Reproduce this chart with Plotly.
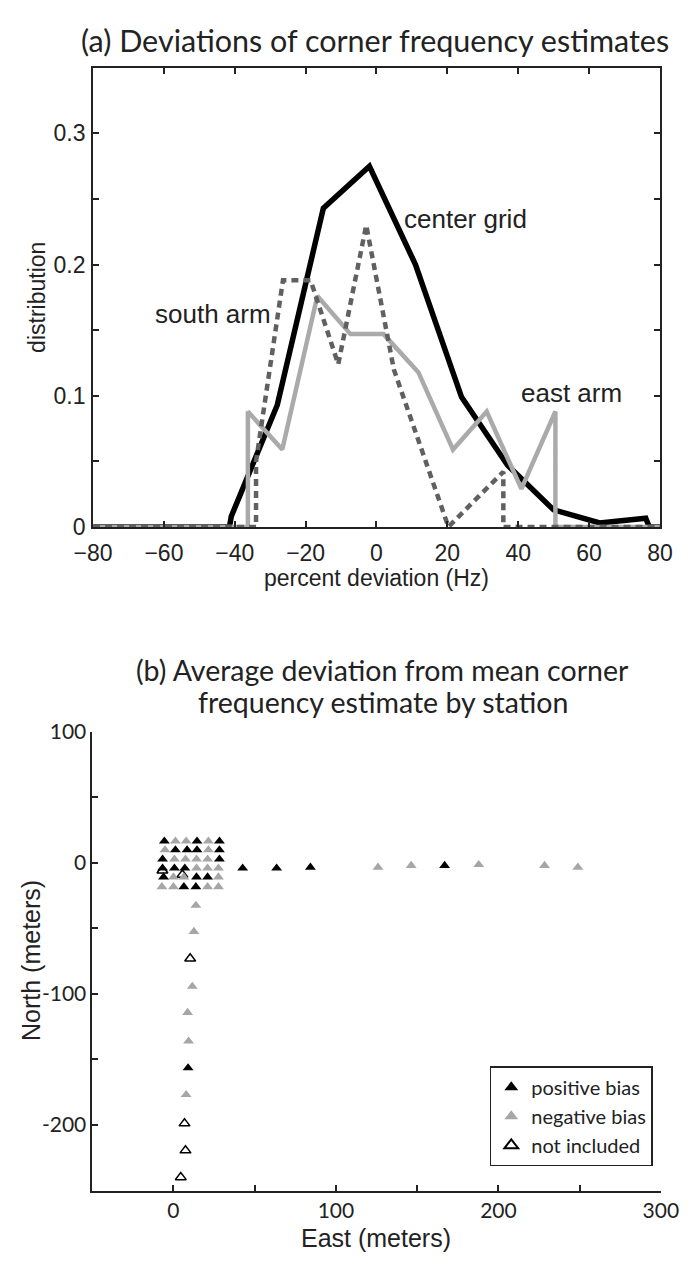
import plotly.graph_objects as go

# ---- (a) distributions of corner frequency deviations ----
center_x = [-80, -41.5, -41, -28, -15, -2, 11, 24, 37, 50, 63, 76, 77, 80]
center_y = [0, 0, 0.008, 0.093, 0.243, 0.275, 0.200, 0.099, 0.047, 0.013, 0.003, 0.0067, 0, 0]

east_x = [-80, -36.3, -36.3, -26.6, -16.7, -7.35, 2.0, 11.8, 21.6, 31.1, 40.9, 50.5, 50.5, 80]
east_y = [0, 0, 0.088, 0.059, 0.176, 0.147, 0.147, 0.118, 0.059, 0.088, 0.029, 0.088, 0, 0]

south_x = [-80, -34, -34, -26.4, -18.6, -10.8, -2.9, 4.9, 12.6, 20.3, 28.0, 35.8, 35.8, 80]
south_y = [0, 0, 0.05, 0.188, 0.188, 0.124, 0.230, 0.120, 0.060, 0, 0.021, 0.042, 0, 0]

# ---- (b) station positions (East, North in meters) ----
pos_e = [-5.6, 14.5, 28.3, 1.2, 8.4, 14.5, 28.3, -6.7, 28.3, -6.7, 0.6, 7.0,
         -6.1, 14.2, 21.0, 6.4, 13.8, 42.6, 63.5, 84.3, 166.9, 9.0]
pos_n = [16.4, 16.4, 16.4, 9.7, 9.7, 9.7, 9.7, 2.7, 2.7, -4.2, -4.2, -4.2,
         -10.9, -10.9, -10.9, -18.4, -18.4, -4.2, -4.2, -3.5, -2.2, -156.5]

neg_e = [1.2, 7.8, 21.5, -5.2, 21.5, 0.6, 7.4, 14.2, 21.0, 14.2, 21.0, 27.7,
         0.0, 6.4, 27.7, -7.1, 0.0, 21.0, 27.7,
         125.9, 146.3, 187.9, 228.4, 248.9,
         13.8, 12.6, 11.6, 8.7, 9.3, 7.8]
neg_n = [16.4, 16.4, 16.4, 9.7, 9.7, 2.7, 2.7, 2.7, 2.7, -4.2, -4.2, -4.2,
         -10.9, -10.9, -10.9, -18.4, -18.4, -18.4, -18.4,
         -3.5, -2.2, -1.5, -2.2, -3.5,
         -32.6, -52.5, -94.3, -114.2, -136.1, -176.9]

excl_e = [-6.8, 5.5, 10.3, 6.8, 7.4, 4.5]
excl_n = [-6.0, -9.2, -73.1, -198.8, -219.4, -239.8]

BLACK = '#000000'
LIGHT = '#aaaaaa'
DARK = '#606060'
AX = '#222222'
W, H = 694, 1279

fig = go.Figure()

fig.add_trace(go.Scatter(x=center_x, y=center_y, mode='lines',
                         line=dict(color=BLACK, width=5.5), showlegend=False,
                         xaxis='x', yaxis='y'))
fig.add_trace(go.Scatter(x=east_x, y=east_y, mode='lines',
                         line=dict(color=LIGHT, width=4.5), showlegend=False,
                         xaxis='x', yaxis='y'))
fig.add_trace(go.Scatter(x=south_x, y=south_y, mode='lines',
                         line=dict(color=DARK, width=4.5, dash='7px,5px'),
                         showlegend=False, xaxis='x', yaxis='y'))

# open markers first so they sit beneath the filled ones
fig.add_trace(go.Scatter(x=excl_e, y=excl_n, mode='markers', name='not included',
                         marker=dict(symbol='triangle-up', size=9.5, color='white',
                                     line=dict(color=BLACK, width=1.5)),
                         legendrank=3, xaxis='x2', yaxis='y2'))
fig.add_trace(go.Scatter(x=neg_e, y=neg_n, mode='markers', name='negative bias',
                         marker=dict(symbol='triangle-up', size=9.5, color='#a6a6a6'),
                         legendrank=2, xaxis='x2', yaxis='y2'))
fig.add_trace(go.Scatter(x=pos_e, y=pos_n, mode='markers', name='positive bias',
                         marker=dict(symbol='triangle-up', size=9.5, color=BLACK),
                         legendrank=1, xaxis='x2', yaxis='y2'))

tick_a = dict(family='Liberation Sans, Arial, sans-serif', size=23, color=AX)
tick_b = dict(family='Lato, sans-serif', size=21, color=AX)

fig.update_layout(
    width=W, height=H,
    paper_bgcolor='white', plot_bgcolor='white',
    margin=dict(l=0, r=0, t=0, b=0),
    xaxis=dict(domain=[77.3 / W, 677 / W], anchor='y', range=[-80, 80],
               tickvals=[-80, -60, -40, -20, 0, 20, 40, 60, 80],
               ticks='inside', ticklen=6, tickwidth=1.5, tickcolor=AX,
               ticklabelstandoff=4,
               showline=True, linecolor=AX, linewidth=2, mirror='ticks',
               showgrid=False, zeroline=False, tickfont=tick_a),
    yaxis=dict(domain=[1 - 524 / H, 1 - 55 / H], anchor='x', range=[0, 0.35],
               tickvals=[0, 0.1, 0.2, 0.3],
               ticks='inside', ticklen=6, tickwidth=1.5, tickcolor=AX,
               ticklabelstandoff=1,
               minor=dict(dtick=0.05, tick0=0, ticks='inside', ticklen=6,
                          tickwidth=1.5, tickcolor=AX),
               showline=True, linecolor=AX, linewidth=2, mirror='ticks',
               showgrid=False, zeroline=False, tickfont=tick_a),
    xaxis2=dict(domain=[76.4 / W, 678 / W], anchor='y2', range=[-50, 300],
                tickvals=[0, 100, 200, 300],
                ticks='inside', ticklen=6, tickwidth=1.5, tickcolor=AX,
                minor=dict(dtick=50, tick0=0, ticks='inside', ticklen=6,
                           tickwidth=1.5, tickcolor=AX),
                showline=True, linecolor=AX, linewidth=1.5,
                showgrid=False, zeroline=False, tickfont=tick_b),
    yaxis2=dict(domain=[1 - 1202 / H, 1 - 733 / H], anchor='x2', range=[-250, 100],
                tickvals=[100, 0, -100, -200], ticktext=['100', '0', '-100', '-200'],
                ticks='inside', ticklen=6, tickwidth=1.5, tickcolor=AX,
                minor=dict(dtick=50, tick0=0, ticks='inside', ticklen=6,
                           tickwidth=1.5, tickcolor=AX),
                showline=True, linecolor=AX, linewidth=1.5,
                showgrid=False, zeroline=False, tickfont=tick_b),
    legend=dict(x=497 / W, y=1 - 1075 / H, xanchor='left', yanchor='top',
                bordercolor=AX, borderwidth=1.5, bgcolor='white',
                font=dict(family='Lato, sans-serif', size=20, color=AX),
                itemsizing='constant', tracegroupgap=0),
)

label_font = dict(family='Liberation Sans, Arial, sans-serif', size=23, color=AX)
label_font_b = dict(family='Liberation Sans, Arial, sans-serif', size=25, color=AX)
note_font = dict(family='Liberation Sans, Arial, sans-serif', size=26, color=AX)

annotations = [
    dict(text='(a) Deviations of corner frequency estimates', x=376 / W, y=1 - 27 / H,
         font=dict(family='Lato, sans-serif', size=30.5, color=AX)),
    dict(text='percent deviation (Hz)', x=377 / W, y=1 - 576 / H, font=label_font),
    dict(text='distribution', x=18 / W, y=1 - 290 / H, textangle=-90, font=label_font),
    dict(text='(b) Average deviation from mean corner', x=384 / W, y=1 - 670 / H,
         font=dict(family='Lato, sans-serif', size=28.5, color=AX)),
    dict(text='frequency estimate by station', x=384 / W, y=1 - 703 / H,
         font=dict(family='Lato, sans-serif', size=28.5, color=AX)),
    dict(text='East (meters)', x=377 / W, y=1 - 1250 / H, font=label_font_b),
    dict(text='North (meters)', x=11 / W, y=1 - 967 / H, textangle=-90, font=label_font_b),
]
for a in annotations:
    a.update(xref='paper', yref='paper', showarrow=False, xanchor='center', yanchor='middle')

for txt, x, y in [('center grid', 25.1, 0.2346), ('south arm', -46.1, 0.1626),
                  ('east arm', 55.1, 0.102)]:
    annotations.append(dict(text=txt, x=x, y=y, xref='x', yref='y', showarrow=False,
                            font=note_font, xanchor='center', yanchor='middle'))

fig.update_layout(annotations=annotations)
# the page's default body margin would shift the figure off the window
fig.write_html('out.html', config={'displayModeBar': False},
               post_script="document.body.style.margin='0px';")
